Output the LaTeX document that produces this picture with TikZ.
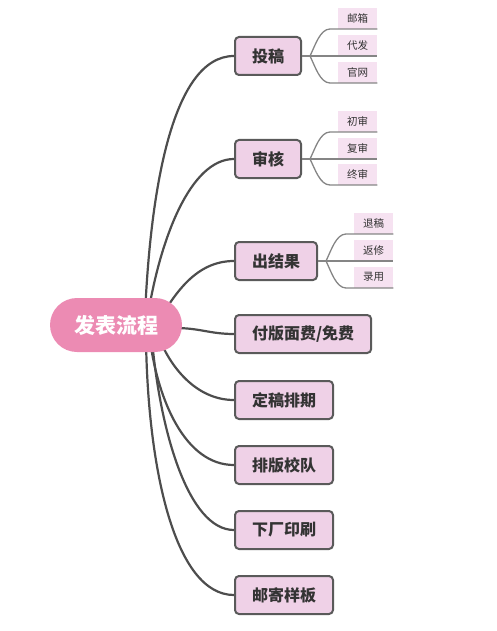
\documentclass[tikz,border=0pt]{standalone}
\usepackage{fontspec}
\setmainfont{Noto Sans CJK SC}
\usetikzlibrary{calc}
\definecolor{rootfill}{HTML}{EC8BB3}
\definecolor{boxfill}{HTML}{EFD1E7}
\definecolor{subfill}{HTML}{F6E2F1}
\definecolor{boxline}{HTML}{5A5A5A}
\definecolor{linec}{HTML}{4D4D4D}
\definecolor{subline}{HTML}{858585}
\definecolor{txt}{HTML}{333333}
\pgfdeclarelayer{bg}
\pgfsetlayers{bg,main}
\begin{document}
\begin{tikzpicture}[x=1pt,y=-1pt,
  rootnode/.style={fill=rootfill, rounded corners=27pt, minimum width=132pt, minimum height=54pt, inner sep=0pt, text=white, font=\fontsize{21}{21}\selectfont\bfseries},
  mainbox/.style={draw=boxline, fill=boxfill, line width=2pt, rounded corners=4pt, minimum height=38pt, inner xsep=17pt, inner ysep=0pt, font=\fontsize{16}{16}\selectfont\bfseries, text=txt, anchor=west},
  subbox/.style={fill=subfill, minimum width=39pt, minimum height=21pt, inner sep=0pt, font=\fontsize{10.5}{10.5}\selectfont, text=txt, anchor=south west},
  link/.style={draw=linec, line width=2.2pt},
  sublink/.style={draw=subline, line width=1.3pt}]
\useasboundingbox (0,0) rectangle (496,631);

% root
\node[rootnode] (root) at (116,325) {发表流程};

% main nodes
\node[mainbox] (n1) at (234,56) {投稿};
\node[mainbox] (n2) at (234,159) {审核};
\node[mainbox] (n3) at (234,261) {出结果};
\node[mainbox] (n4) at (234,334) {付版面费/免费};
\node[mainbox] (n5) at (234,400) {定稿排期};
\node[mainbox] (n6) at (234,465) {排版校队};
\node[mainbox] (n7) at (234,530) {下厂印刷};
\node[mainbox] (n8) at (234,595) {邮寄样板};

% connectors behind the nodes
\begin{pgfonlayer}{bg}
\draw[link] ($(root.center)+(29,-10)$) .. controls +(5,-115) and +(-64,0) .. (n1.west);
\draw[link] ($(root.center)+(32,-10)$) .. controls +(12,-75) and +(-44,0) .. (n2.west);
\draw[link] ($(root.center)+(44,-7)$) .. controls +(15,-23) and +(-39,0) .. (n3.west);
\draw[link] ($(root.center)+(59,3)$) .. controls +(25,0) and +(-24,0) .. (n4.west);
\draw[link] ($(root.center)+(44,15)$) .. controls +(10,25) and +(-39,0) .. (n5.west);
\draw[link] ($(root.center)+(34,15)$) .. controls +(8,60) and +(-49,0) .. (n6.west);
\draw[link] ($(root.center)+(36,15)$) .. controls +(8,90) and +(-46,0) .. (n7.west);
\draw[link] ($(root.center)+(30,15)$) .. controls +(2,130) and +(-59,0) .. (n8.west);
\end{pgfonlayer}

% sub nodes
\node[subbox] (s11) at (338,29) {邮箱};
\node[subbox] (s12) at (338,56) {代发};
\node[subbox] (s13) at (338,83) {官网};
\node[subbox] (s21) at (338,132) {初审};
\node[subbox] (s22) at (338,159) {复审};
\node[subbox] (s23) at (338,185) {终审};
\node[subbox] (s31) at (354,234) {退稿};
\node[subbox] (s32) at (354,261) {返修};
\node[subbox] (s33) at (354,288) {录用};

% sub links
\foreach \m/\a/\b/\c in {n1/s11/s12/s13, n2/s21/s22/s23, n3/s31/s32/s33} {
  \draw[sublink] (\m.east) -- ++(8,0) coordinate (br);
  \draw[sublink] (br) -- (\b.south east);
  \draw[sublink] (br) .. controls +(5,-10) and +(-10,0) .. ($(\a.south west)+(-8,0)$) -- (\a.south east);
  \draw[sublink] (br) .. controls +(5,10) and +(-10,0) .. ($(\c.south west)+(-8,0)$) -- (\c.south east);
}
\end{tikzpicture}
\end{document}
